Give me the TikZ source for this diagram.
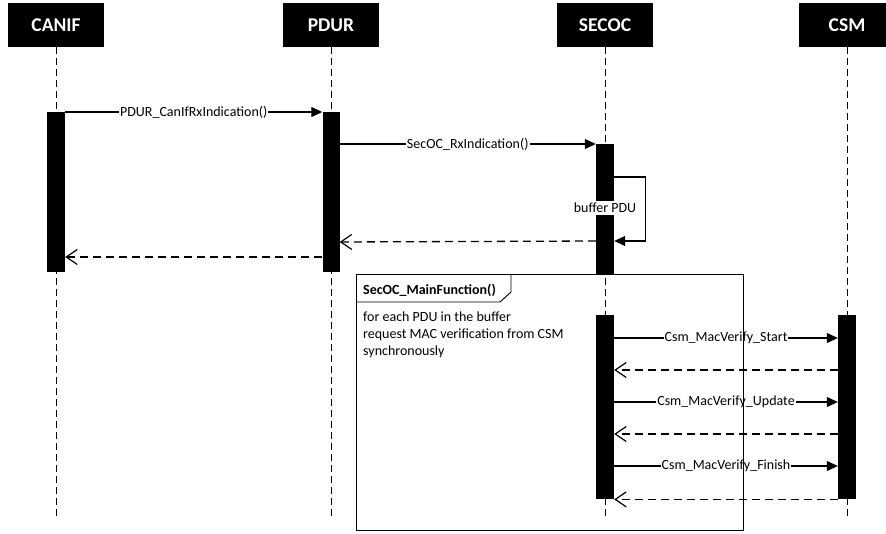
\documentclass[tikz,border=0pt]{standalone}
\usepackage{fontspec}
\setmainfont{Carlito}
\usetikzlibrary{arrows.meta}
\begin{document}
\begin{tikzpicture}[x=1pt,y=-1pt,
  head/.style={fill=black, text=white, font=\bfseries\fontsize{19.5}{19.5}\selectfont, minimum width=96pt, minimum height=44pt, inner sep=0pt},
  life/.style={line width=0.9pt, dash pattern=on 7pt off 4pt},
  actbar/.style={fill=black, minimum width=18pt, inner sep=0pt, anchor=north},
  call/.style={line width=1.1pt, -{Triangle[length=11pt,width=10pt]}},
  ret/.style={line width=1.3pt, dash pattern=on 8pt off 5pt, -{Straight Barb[length=11pt,width=15pt,line width=1.2pt]}},
  msg/.style={fill=white, inner sep=1pt, font=\fontsize{14}{16}\selectfont},
  framestyle/.style={line width=0.9pt},
]
\useasboundingbox (0,0) rectangle (886,533);
\clip (0,0) rectangle (886,533);

% lifeline heads
\node[head] (canif) at (56,25) {CANIF};
\node[head] (pdur) at (331,25) {PDUR};
\node[head] (secoc) at (605,25) {SECOC};
\node[head] (csm) at (847,25) {CSM};

% lifeline ends
\coordinate (canifend) at (56,518);
\coordinate (pdurend) at (331,518);
\coordinate (secocend) at (605,518);
\coordinate (csmend) at (847,518);

\draw[life] (canif.south) -- (canifend);
\draw[life] (pdur.south) -- (pdurend);
\draw[life] (secoc.south) -- (secocend);
\draw[life] (csm.south) -- (csmend);

% activation bars
\node[actbar, minimum height=160pt] (canifbar) at (56,112) {};
\node[actbar, minimum width=17pt, minimum height=160pt] (pdurbar) at (331,112) {};
\node[actbar, minimum height=131pt] (secbar1) at (605,144) {};
\node[actbar, minimum height=184pt] (secbar2) at (605,315) {};
\node[actbar, minimum height=184pt] (csmbar) at (847,315) {};

% first phase messages
\draw[call] (canifbar.north east) -- node[msg] {PDUR\_CanIfRxIndication()} (pdurbar.north west);
\draw[call] ([yshift=-32pt]pdurbar.north east) -- node[msg] {SecOC\_RxIndication()} (secbar1.north west);
\draw[call] ([yshift=-33pt]secbar1.north east) -- ++(31,0) |- ([yshift=-97pt]secbar1.north east);
\node[msg, inner sep=2pt] (buf) at (605,208) {buffer PDU};
\draw[ret] ([yshift=-97pt]secbar1.north west) -- ([yshift=-130pt]pdurbar.north east);
\draw[ret] ([yshift=-145pt]pdurbar.north west) -- ([yshift=-145pt]canifbar.north east);

% second phase messages
\draw[call] ([yshift=-23pt]secbar2.north east) -- node[msg] {Csm\_MacVerify\_Start} ([yshift=-23pt]csmbar.north west);
\draw[ret] ([yshift=-55pt]csmbar.north west) -- ([yshift=-55pt]secbar2.north east);
\draw[call] ([yshift=-87pt]secbar2.north east) -- node[msg] {Csm\_MacVerify\_Update} ([yshift=-87pt]csmbar.north west);
\draw[ret] ([yshift=-119pt]csmbar.north west) -- ([yshift=-119pt]secbar2.north east);
\draw[call] ([yshift=-151pt]secbar2.north east) -- node[msg] {Csm\_MacVerify\_Finish} ([yshift=-151pt]csmbar.north west);
\draw[ret] (csmbar.south west) -- (secbar2.south east);

% combined fragment frame
\node[draw, framestyle, minimum width=387pt, minimum height=256pt, inner sep=0pt, anchor=north west] (frame) at (356,274) {};
\draw[framestyle] ([yshift=-28pt]frame.north west) -- ([xshift=144pt,yshift=-28pt]frame.north west) -- ([xshift=155pt,yshift=-18pt]frame.north west) -- ([xshift=155pt]frame.north west);
\node[anchor=west, font=\bfseries\fontsize{14}{16}\selectfont, inner sep=0pt] (title) at (363,290) {SecOC\_MainFunction()};
\node[anchor=north west, align=left, font=\fontsize{14}{17}\selectfont, inner sep=0pt] (note) at (363,312) {for each PDU in the buffer\\request MAC verification from CSM\\synchronously};
\end{tikzpicture}
\end{document}
